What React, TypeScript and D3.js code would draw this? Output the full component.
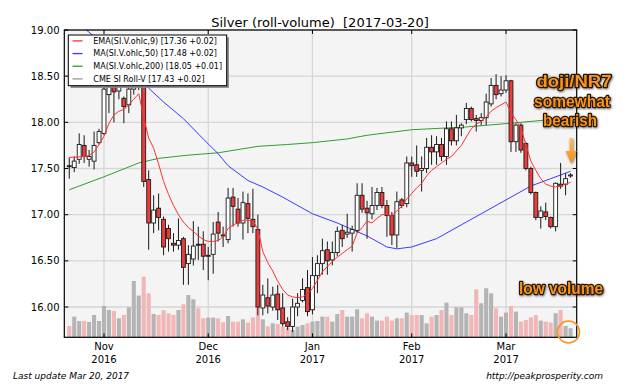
import React from 'react';
import * as d3 from 'd3';

// ---- Candles (trading days, index 0 = 2016-10-21 ... 101 = 2017-03-20) ----
const opens = [17.53,17.51,17.60,17.75,17.60,17.58,17.78,17.88,18.30,18.39,18.34,18.26,18.19,18.36,18.42,18.45,17.38,16.91,17.07,16.95,
16.85,16.69,16.67,16.74,16.47,16.52,16.68,16.68,16.55,16.57,16.92,16.78,16.73,17.19,17.06,16.91,17.12,16.95,16.84,15.99,
16.10,16.00,16.14,15.99,15.84,15.79,16.00,16.07,16.21,15.97,16.34,16.47,16.62,16.51,16.59,16.83,16.79,16.80,16.83,17.21,
17.07,17.01,17.10,17.24,17.10,16.99,16.78,17.16,17.12,17.56,17.54,17.48,17.50,17.73,17.68,17.76,17.63,17.93,17.80,17.94,
18.03,18.15,18.04,18.02,18.05,18.20,18.40,18.31,18.35,18.45,17.79,17.97,17.77,17.50,17.24,16.97,17.03,16.97,16.87,17.33,
17.33,17.42];
const highs = [17.62,17.63,17.88,17.86,17.70,17.90,17.93,18.40,18.50,18.45,18.48,18.28,18.42,18.55,18.55,18.50,17.48,17.21,17.23,16.98,
16.89,16.80,16.96,16.76,16.67,16.93,16.87,16.82,16.65,16.92,17.03,16.87,17.29,17.29,17.18,17.25,17.23,17.28,17.00,16.24,
16.31,16.22,16.24,16.15,15.89,16.09,16.15,16.31,16.40,16.54,16.56,16.74,16.71,16.71,16.87,16.89,17.01,16.88,17.34,17.34,
17.15,17.30,17.29,17.30,17.16,17.03,17.25,17.18,17.63,17.63,17.75,17.63,17.83,17.86,17.85,17.83,18.01,18.01,18.08,17.99,
18.21,18.17,18.08,18.10,18.31,18.48,18.52,18.50,18.51,18.46,17.99,17.99,17.79,17.52,17.25,17.09,17.13,16.98,17.35,17.56,
17.45,17.45];
const lows = [17.39,17.46,17.55,17.56,17.52,17.49,17.76,17.86,18.10,18.00,18.25,17.99,18.10,18.30,18.35,17.30,16.62,16.80,16.83,16.56,
16.60,16.60,16.62,16.24,16.24,16.45,16.51,16.40,16.29,16.36,16.71,16.65,16.69,16.87,16.87,16.73,16.80,16.80,15.91,15.91,
15.93,15.96,15.86,15.79,15.75,15.73,15.90,16.05,15.90,15.92,16.15,16.35,16.35,16.45,16.55,16.65,16.75,16.60,16.80,17.02,
16.74,16.95,17.05,17.07,16.76,16.67,16.64,17.07,17.08,17.41,17.41,17.25,17.45,17.54,17.54,17.58,17.54,17.75,17.75,17.85,
17.98,18.01,17.90,17.97,17.97,18.17,18.25,18.28,18.32,17.68,17.68,17.67,17.48,17.22,16.94,16.85,16.94,16.85,16.82,17.28,
17.21,17.40];
const closes = [17.52,17.58,17.76,17.63,17.63,17.75,17.90,18.36,18.40,18.33,18.39,18.17,18.36,18.48,18.46,17.36,16.91,17.05,16.97,16.65,
16.74,16.67,16.72,16.43,16.57,16.66,16.67,16.55,16.56,16.79,16.80,16.77,17.18,17.09,16.91,17.13,16.96,16.87,16.00,16.13,
16.01,16.13,15.97,15.82,15.79,16.00,16.04,16.19,15.95,16.34,16.47,16.61,16.50,16.59,16.82,16.74,16.81,16.84,17.21,17.06,
17.02,17.10,17.24,17.10,16.99,16.78,17.14,17.10,17.56,17.53,17.47,17.50,17.73,17.68,17.76,17.63,17.93,17.80,17.94,17.97,
18.15,18.03,18.02,18.05,18.22,18.40,18.30,18.35,18.45,17.79,17.97,17.70,17.50,17.24,16.97,17.04,16.98,16.87,17.34,17.31,
17.39,17.43];
// roll volume (thousand contracts, approx.)
const volumes = [11.3,20.7,16.3,16.3,15.3,22.3,16.3,31.3,27.3,26.3,19,22.3,30,56.3,41.7,60.7,44,23.3,22.3,27,
24,22.3,27.3,33,42.3,38,29,19,19.7,19.7,19,15,21.3,15.7,15.7,18,14.7,20,31.3,18,
11,14,13.3,10.7,9,7.3,10.7,12.3,14,15.7,16.3,20.7,20.7,15.7,23.3,27.3,20.7,20.7,28,19,
24,20.7,16.7,16.7,20.7,16.7,19,19,24.7,22.3,22.3,22.3,14,20.7,22.3,27.3,34.7,22.3,30,30,
24,22.3,48,34,49,44,29,20.7,24.7,31.3,25.7,15.7,17.3,20,22.3,16.7,15.7,14.7,24,27.3,
11.3,9];

// ---- Indicator lines (read at candle indices) ----
const emaIdx = [0,3,4,5,6,7,8,9,10,11,12,13,14,15,16,17,18,19,20,21,22,23,24,25,26,27,28,29,30,31,32,33,34,35,36,37,38,39,40,41,42,43,44,45,46,47,48,49,50,51,52,53,54,55,56,57,58,59,60,61,62,63,64,65,66,67,68,69,70,71,72,73,74,75,76,77,78,79,80,81,82,83,84,85,86,87,88,89,90,91,92,93,94,95,96,97,98,99,100,101];
const emaVal = [17.62,17.63,17.64,17.68,17.76,17.85,17.99,18.08,18.12,18.14,18.19,18.25,18.31,18.05,17.83,17.72,17.55,17.36,17.22,17.10,17.00,16.92,16.86,16.82,16.77,16.73,16.71,16.71,16.72,16.76,16.85,16.89,16.91,16.94,16.94,16.935,16.84,16.60,16.48,16.39,16.28,16.19,16.13,16.11,16.10,16.11,16.14,16.20,16.29,16.38,16.44,16.49,16.54,16.58,16.62,16.66,16.80,16.86,16.93,16.91,16.96,17.00,17.00,16.99,17.04,17.09,17.17,17.23,17.29,17.34,17.42,17.48,17.52,17.56,17.60,17.63,17.69,17.75,17.84,17.93,17.98,18.01,18.06,18.12,18.16,18.19,18.22,18.10,18.03,17.94,17.76,17.58,17.48,17.39,17.33,17.31,17.30,17.31,17.33,17.35];
const ma50Idx = [0,8,12,16,19,23,27,30,32,36,39,43,49,54,57,60,64,66,69,74,80,83,88,93,97,101];
const ma50Val = [19.15,18.80,18.60,18.37,18.22,18.04,17.82,17.66,17.53,17.37,17.30,17.19,17.01,16.91,16.84,16.77,16.65,16.63,16.65,16.74,16.92,17.01,17.16,17.31,17.39,17.47];
const ma200Idx = [0,7,14,18,24,30,38,44,49,56,60,69,80,91,101];
const ma200Val = [17.27,17.41,17.56,17.61,17.645,17.67,17.74,17.76,17.78,17.82,17.86,17.92,17.95,18.00,18.05];

// ---- Axes ----
const yTicks = [16.0,16.5,17.0,17.5,18.0,18.5,19.0];
const xTickIdx = [7,28,49,69,88];
const xTickMonth = ['Nov','Dec','Jan','Feb','Mar'];
const xTickYear = ['2016','2016','2017','2017','2017'];

const legendItems = [
  { label: 'EMA(SI.V.ohlc,9) [17.36 +0.02]', color: '#ff3030' },
  { label: 'MA(SI.V.ohlc,50) [17.48 +0.02]', color: '#3a3aff' },
  { label: 'MA(SI.V.ohlc,200) [18.05 +0.01]', color: '#2e9e2e' },
  { label: 'CME SI Roll-V [17.43 +0.02]', color: '#999999' },
];

export default function App() {
  const W = 640, H = 384;
  const L = 64.3, R = 576.7, T = 30, B = 337.3;
  const xS = d3.scaleLinear().domain([-1.0, 102.24]).range([L, R]);
  const yS = d3.scaleLinear().domain([15.672, 19]).range([B, T]);
  const vS = d3.scaleLinear().domain([0, 100]).range([B, B - 100]);
  const font = 'DejaVu Sans, sans-serif';

  const mkLine = (idx: number[], vals: number[]) =>
    d3.line<number>().x((_, k) => xS(idx[k])).y((d) => yS(d))(vals) || '';

  const bodyW = 3.9;
  const volW = 4.1;
  const orange = '#f7941d';
  const txtStyle: any = {
    fontFamily: 'Liberation Sans, Arial, sans-serif', fontWeight: 'bold', fontSize: 16,
    fill: orange, stroke: '#2a1800', strokeWidth: 2.4, paintOrder: 'stroke', strokeLinejoin: 'round',
  };

  return (
    <svg width={W} height={H} viewBox={`0 0 ${W} ${H}`} style={{ position: 'absolute', left: 0, top: 0, background: '#fff' }}>
      <defs>
        <clipPath id="plot"><rect x={L} y={T} width={R - L} height={B - T} /></clipPath>
        <linearGradient id="arrowGrad" x1="0" y1="0" x2="0" y2="1">
          <stop offset="0" stopColor="#fcbf5a" />
          <stop offset="1" stopColor="#f28c12" />
        </linearGradient>
        <filter id="sh" x="-10%" y="-20%" width="130%" height="150%">
          <feDropShadow dx="0.8" dy="1" stdDeviation="0.8" floodColor="#000" floodOpacity="0.55" />
        </filter>
      </defs>
      <rect x={0} y={0} width={W} height={H} fill="#fff" />
      <rect x={L} y={T} width={R - L} height={B - T} fill="#f4f4f4" />
      {/* grid */}
      <g stroke="#d6d6d6" strokeWidth={1.3}>
        {yTicks.map((t) => (
          <line key={'gy' + t} x1={L} x2={R} y1={yS(t)} y2={yS(t)} />
        ))}
        {xTickIdx.map((t) => (
          <line key={'gx' + t} x1={xS(t)} x2={xS(t)} y1={T} y2={B} />
        ))}
      </g>
      <g clipPath="url(#plot)">
        {/* volume */}
        {volumes.map((v, i) => (
          <rect key={'v' + i} x={xS(i) - volW / 2} y={vS(v)} width={volW} height={B - vS(v)}
            fill={closes[i] < opens[i] ? '#f2b6b6' : '#b4b4b4'} />
        ))}
        {/* MA lines */}
        <path d={mkLine(ma200Idx, ma200Val)} fill="none" stroke="#2e9e2e" strokeWidth={1} />
        <path d={mkLine(ma50Idx, ma50Val)} fill="none" stroke="#3a3aff" strokeWidth={1} />
        {/* candles */}
        {opens.map((o, i) => {
          const c = closes[i];
          const up = c >= o;
          const top = yS(Math.max(o, c));
          const bot = yS(Math.min(o, c));
          const h = Math.max(bot - top, 1);
          return (
            <g key={'c' + i}>
              <line x1={xS(i)} x2={xS(i)} y1={yS(highs[i])} y2={yS(lows[i])} stroke="#1a1a1a" strokeWidth={1} />
              <rect x={xS(i) - bodyW / 2} y={top} width={bodyW} height={h}
                fill={up ? '#ffffff' : '#ee3b3b'} stroke="#1a1a1a" strokeWidth={0.9} />
            </g>
          );
        })}
        {/* EMA */}
        <path d={mkLine(emaIdx, emaVal)} fill="none" stroke="#ff3030" strokeWidth={1} />
      </g>
      {/* frame + ticks */}
      <rect x={L} y={T} width={R - L} height={B - T} fill="none" stroke="#000" strokeWidth={1.2} />
      <g stroke="#000" strokeWidth={1}>
        {yTicks.map((t) => (
          <g key={'ty' + t}>
            <line x1={L} x2={L + 4} y1={yS(t)} y2={yS(t)} />
            <line x1={R - 4} x2={R} y1={yS(t)} y2={yS(t)} />
          </g>
        ))}
        {xTickIdx.map((t) => (
          <g key={'tx' + t}>
            <line x1={xS(t)} x2={xS(t)} y1={B} y2={B - 4} />
            <line x1={xS(t)} x2={xS(t)} y1={T} y2={T + 4} />
          </g>
        ))}
      </g>
      {/* y labels */}
      {yTicks.map((t) => (
        <text key={'ly' + t} x={59.5} y={yS(t)} dy="0.36em" textAnchor="end" fontFamily={font} fontSize={10} fill="#000">
          {t.toFixed(2)}
        </text>
      ))}
      {/* x labels */}
      {xTickIdx.map((t, k) => (
        <text key={'lx' + t} x={xS(t)} textAnchor="middle" fontFamily={font} fontSize={10} fill="#000">
          <tspan x={xS(t)} y={350}>{xTickMonth[k]}</tspan>
          <tspan x={xS(t)} y={363.3}>{xTickYear[k]}</tspan>
        </text>
      ))}
      {/* title */}
      <text x={320} y={26.5} textAnchor="middle" fontFamily={font} fontSize={13} fill="#000" style={{ whiteSpace: 'pre' }}>
        {'Silver (roll-volume)  [2017-03-20]'}
      </text>
      {/* legend */}
      <rect x={70.5} y={37.2} width={158.4} height={50.7} fill="#888" />
      <rect x={68.3} y={35} width={158.4} height={50.7} fill="#fff" stroke="#000" strokeWidth={1} />
      {legendItems.map((it, k) => {
        const cy = 40.9 + k * 12.67;
        return (
          <g key={'lg' + k}>
            <line x1={72.5} x2={82.5} y1={cy} y2={cy} stroke={it.color} strokeWidth={1.3} />
            <text x={93.3} y={cy} dy="0.35em" fontFamily={font} fontSize={8} fill="#000">{it.label}</text>
          </g>
        );
      })}
      {/* footer */}
      <text x={13} y={379} fontFamily={font} fontStyle="italic" fontSize={9} fill="#000">Last update Mar 20, 2017</text>
      <text x={603} y={379} textAnchor="end" fontFamily={font} fontStyle="italic" fontSize={9} fill="#000">http://peakprosperity.com</text>
      {/* annotations */}
      <g filter="url(#sh)">
        <text x={574} y={86.7} textAnchor="middle" textLength={75} lengthAdjust="spacingAndGlyphs" style={txtStyle}>doji/NR7</text>
        <text x={572} y={106.7} textAnchor="middle" textLength={76} lengthAdjust="spacingAndGlyphs" style={txtStyle}>somewhat</text>
        <text x={570} y={125.5} textAnchor="middle" textLength={54} lengthAdjust="spacingAndGlyphs" style={txtStyle}>bearish</text>
        <text x={561} y={293.5} textAnchor="middle" textLength={84} lengthAdjust="spacingAndGlyphs" style={txtStyle}>low volume</text>
        <path d="M569.6,138 L572.6,138 L572.6,151 L576.6,151 L571.1,163.5 L565.6,151 L569.6,151 Z" fill="url(#arrowGrad)" />
      </g>
      <circle cx={568.5} cy={332} r={11} fill="none" stroke={orange} strokeWidth={1.6} />
    </svg>
  );
}
